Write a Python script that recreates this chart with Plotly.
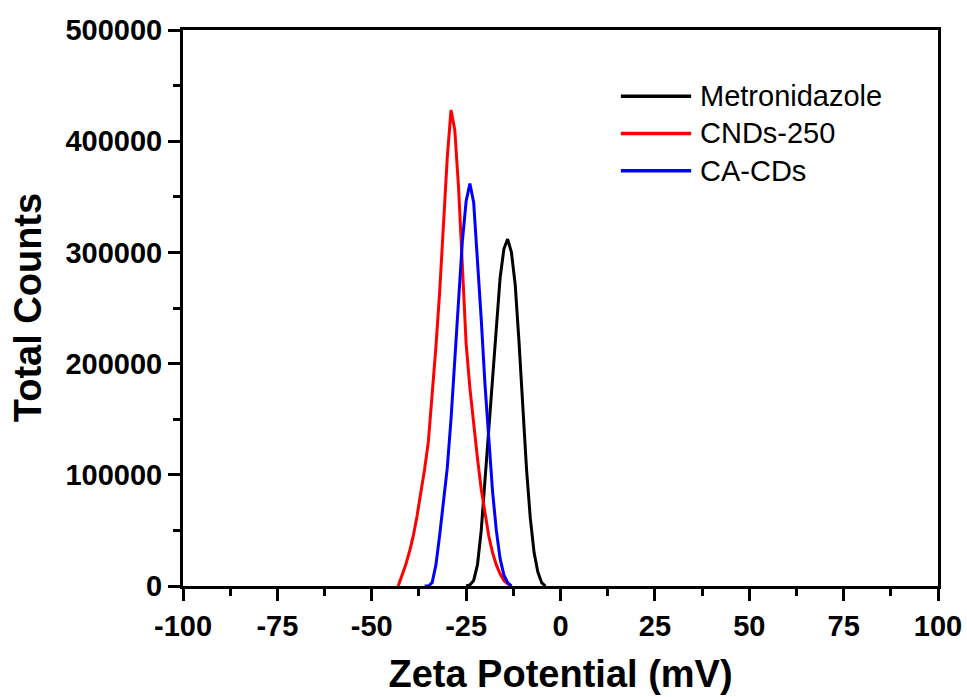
import plotly.graph_objects as go

# Zeta potential (mV) grids and total counts
metro_x = [-25, -24, -23, -22, -21, -20, -19, -18, -17, -16, -15, -14, -13, -12, -11, -10, -9, -8, -7, -6, -5, -4]
metro_y = [0, 1000, 5000, 19000, 50000, 94000, 140000, 187000, 235000, 277000, 303000, 312000, 300000, 271000,
           220000, 160000, 105000, 61000, 30000, 12600, 3000, 0]

cnds_x = [-43, -42, -41, -40, -39, -38, -37, -36, -35, -34, -33, -32, -31, -30, -29, -28, -27, -26, -25, -24,
          -23, -22, -21, -20, -19, -18, -17, -16, -15, -14, -13]
cnds_y = [0, 9000, 19000, 31000, 45000, 63000, 83000, 105000, 130000, 170000, 215000, 265000, 325000, 385000,
          428000, 410000, 358000, 290000, 218000, 178000, 145000, 115000, 87000, 64000, 45000, 30000, 19000,
          11000, 5000, 2000, 0]

cacd_x = [-36, -35, -34, -33, -32, -31, -30, -29, -28, -27, -26, -25, -24, -23, -22, -21, -20, -19, -18, -17,
          -16, -15, -14, -13]
cacd_y = [0, 0, 3000, 19000, 46000, 76000, 106000, 150000, 205000, 260000, 310000, 346000, 362000, 345000,
          295000, 240000, 181000, 130000, 85000, 50000, 24600, 10000, 3000, 0]

series_names = ["Metronidazole", "CNDs-250", "CA-CDs"]
series_colors = ["#000000", "#ff0000", "#0000ff"]

x_ticks = [-100, -75, -50, -25, 0, 25, 50, 75, 100]
y_ticks = [0, 100000, 200000, 300000, 400000, 500000]

FONT = "Liberation Sans, Arial, sans-serif"

fig = go.Figure()
for xs, ys, name, col in zip([metro_x, cnds_x, cacd_x], [metro_y, cnds_y, cacd_y], series_names, series_colors):
    fig.add_trace(go.Scatter(x=xs, y=ys, mode="lines", name=name,
                             line=dict(color=col, width=3), showlegend=False))

# manual legend (long sample lines like the original)
leg_y = [0.881, 0.814, 0.747]
for name, col, ly in zip(series_names, series_colors, leg_y):
    fig.add_shape(type="line", xref="paper", yref="paper", x0=0.580, x1=0.673, y0=ly, y1=ly,
                  line=dict(color=col, width=3.5))
    fig.add_annotation(xref="paper", yref="paper", x=0.682, y=ly, text=name, showarrow=False,
                       xanchor="left", yanchor="middle", font=dict(family=FONT, size=29, color="black"))

# y-axis title placed like the original (further left than an axis title can go)
fig.add_annotation(xref="paper", yref="paper", x=-0.205, y=0.5, text="Total Counts", showarrow=False,
                   textangle=-90, xanchor="center", yanchor="middle",
                   font=dict(family=FONT, size=38, color="black", weight="bold"))

axis_common = dict(
    showline=True, linecolor="black", linewidth=3, mirror=True,
    ticks="outside", ticklen=12, tickwidth=3, tickcolor="black",
    showgrid=False, zeroline=False,
    tickfont=dict(family=FONT, size=29, color="black", weight="bold"),
)

fig.update_xaxes(range=[-100, 100], tickvals=x_ticks, ticktext=[str(v) for v in x_ticks],
                 minor=dict(ticks="outside", ticklen=7, tickwidth=3, tickcolor="black", dtick=12.5),
                 title=dict(text="Zeta Potential (mV)", standoff=20,
                            font=dict(family=FONT, size=38, color="black", weight="bold")),
                 **axis_common)
fig.update_yaxes(range=[0, 500000], tickvals=y_ticks, ticktext=[str(v) for v in y_ticks],
                 minor=dict(ticks="outside", ticklen=7, tickwidth=3, tickcolor="black", dtick=50000),
                 **axis_common)

fig.update_layout(
    width=967, height=697,
    margin=dict(l=183, r=29, t=30, b=111, autoexpand=False),
    paper_bgcolor="white", plot_bgcolor="white",
    font=dict(family=FONT, color="black"),
)

# remove the browser's default 8px page margin so the figure fills the window exactly
fig.write_html("out.html", config={"displayModeBar": False},
               post_script="document.body.style.margin='0';document.body.style.overflow='hidden';")
